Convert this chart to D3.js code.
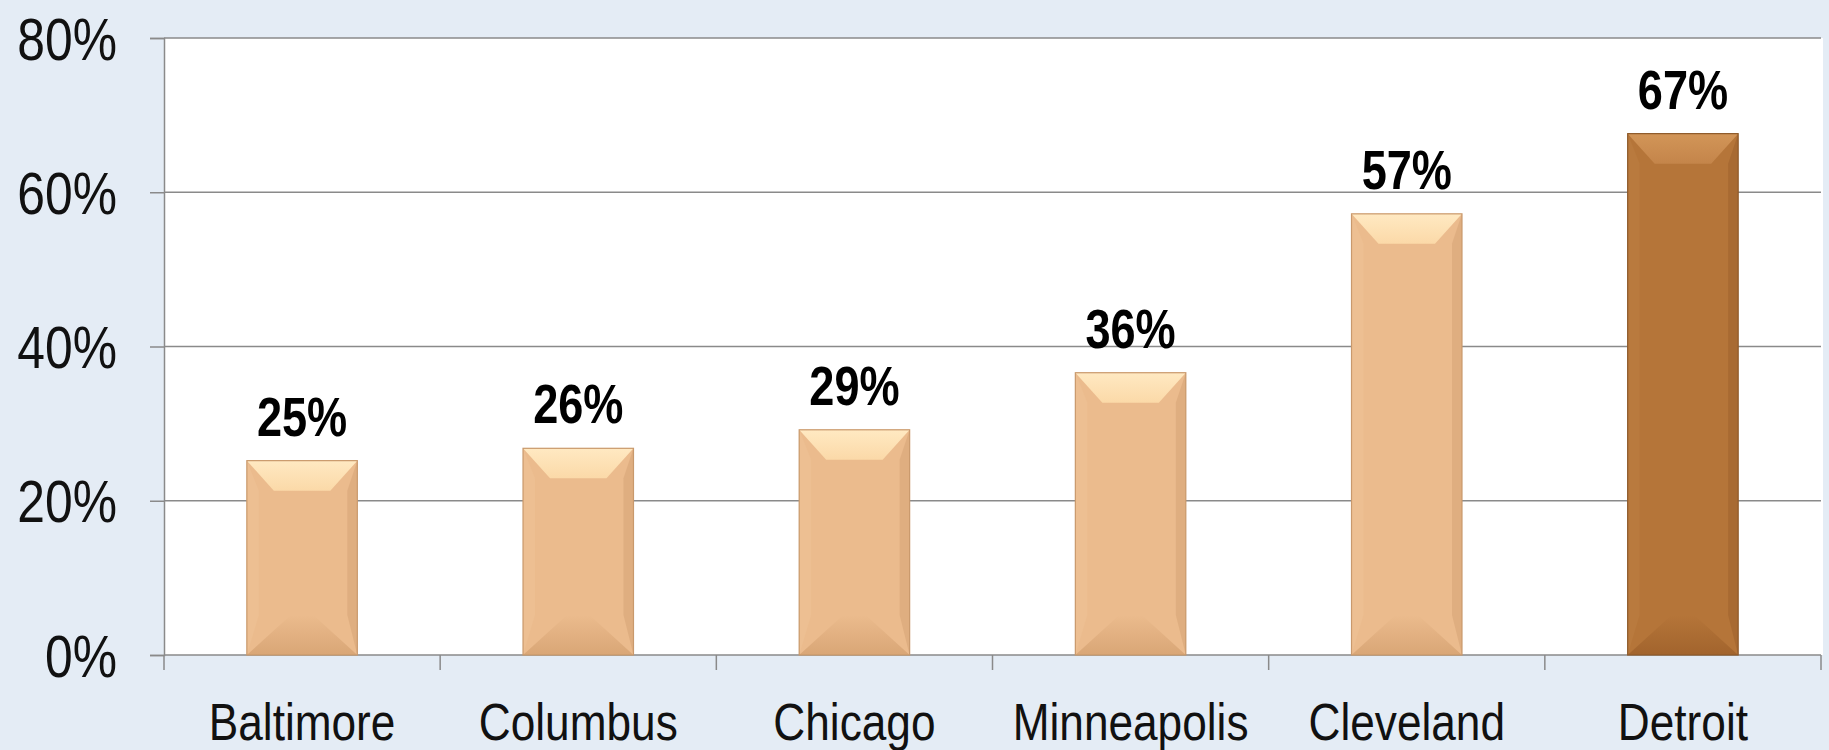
<!DOCTYPE html>
<html>
<head>
<meta charset="utf-8">
<script src="https://cdn.jsdelivr.net/npm/d3@7"></script>
<style>
  html, body { margin: 0; padding: 0; background: #e4ecf5; }
  svg { display: block; }
  text { font-family: "Liberation Sans", Arial, sans-serif; }
</style>
</head>
<body>
<svg id="chart" width="1829" height="750"></svg>
<script>
// ---- data ----
const categories = ["Baltimore", "Columbus", "Chicago", "Minneapolis", "Cleveland", "Detroit"];
const values = [25.2, 26.8, 29.2, 36.6, 57.2, 67.6];
const valueLabels = ["25%", "26%", "29%", "36%", "57%", "67%"];
const highlighted = ["Detroit"];
const yTicks = [0, 20, 40, 60, 80];
const yTickLabels = ["0%", "20%", "40%", "60%", "80%"];

// ---- layout ----
const W = 1829, H = 750;
const margin = { left: 164, right: 8, top: 38, bottom: 95 };
const svg = d3.select("#chart");
const defs = svg.append("defs");

const x = d3.scaleBand().domain(categories)
  .range([margin.left, W - margin.right])
  .paddingInner(0.6).paddingOuter(0.3);
const xBand = d3.scaleBand().domain(categories)
  .range([margin.left, W - margin.right]).padding(0);
const y = d3.scaleLinear().domain([0, 80]).range([H - margin.bottom, margin.top]);

// background
svg.append("rect").attr("width", W).attr("height", H).attr("fill", "#e4ecf5");
// plot area
svg.append("rect")
  .attr("x", margin.left).attr("y", y(80))
  .attr("width", W - margin.right - margin.left + 2).attr("height", y(0) - y(80))
  .attr("fill", "#ffffff");

// gridlines
svg.append("g").selectAll("line").data(yTicks.filter(d => d > 0)).join("line")
  .attr("x1", margin.left).attr("x2", W - margin.right)
  .attr("y1", d => y(d)).attr("y2", d => y(d))
  .attr("stroke", "#8a8a8a").attr("stroke-width", 1.5);

// y axis
const yAxis = d3.axisLeft(y).tickValues(yTicks).tickSize(14).tickFormat("");
const gy = svg.append("g").attr("transform", `translate(${margin.left},0)`).call(yAxis);
gy.select(".domain").attr("stroke", "#8a8a8a").attr("stroke-width", 1.5);
gy.selectAll(".tick line").attr("stroke", "#8a8a8a").attr("stroke-width", 1.5);

const sx = 0.83;
svg.append("g").selectAll("text").data(yTicks).join("text")
  .attr("transform", d => `translate(117,${y(d)}) scale(${sx},1)`)
  .attr("text-anchor", "end").attr("dy", "0.36em")
  .attr("font-size", 60).attr("fill", "#111")
  .text((d, i) => yTickLabels[i]);

// x axis baseline + category ticks
svg.append("line")
  .attr("x1", margin.left).attr("x2", W - margin.right)
  .attr("y1", y(0)).attr("y2", y(0))
  .attr("stroke", "#8a8a8a").attr("stroke-width", 1.5);
const bounds = categories.map(c => xBand(c)).concat([xBand(categories[categories.length - 1]) + xBand.bandwidth()]);
svg.append("g").selectAll("line").data(bounds).join("line")
  .attr("x1", d => d).attr("x2", d => d)
  .attr("y1", y(0)).attr("y2", y(0) + 15)
  .attr("stroke", "#8a8a8a").attr("stroke-width", 1.5);

svg.append("g").selectAll("text").data(categories).join("text")
  .attr("transform", d => `translate(${xBand(d) + xBand.bandwidth() / 2},740) scale(0.85,1)`)
  .attr("text-anchor", "middle")
  .attr("font-size", 52).attr("fill", "#111")
  .text(d => d);

// ---- bars with bevel ----
const palettes = {
  normal: { base: "#ebbb8d", top: "#fbd9a8", topEdge: "#ffe9c2", bottom: "#d9a676", left: "#edbf92", right: "#dfae80", stroke: "#c9996c" },
  hi:     { base: "#b57539", top: "#c4854a", topEdge: "#d29558", bottom: "#a2642d", left: "#b97a3e", right: "#a86a32", stroke: "#8e5a2a" }
};

function mkGrad(id, c1, c2, vertical) {
  const g = defs.append("linearGradient").attr("id", id)
    .attr("x1", 0).attr("y1", 0).attr("x2", vertical ? 0 : 1).attr("y2", vertical ? 1 : 0);
  g.append("stop").attr("offset", "0%").attr("stop-color", c1);
  g.append("stop").attr("offset", "100%").attr("stop-color", c2);
}
["normal", "hi"].forEach(k => {
  const p = palettes[k];
  mkGrad("top-" + k, p.topEdge, p.top, true);
  mkGrad("bot-" + k, p.base, p.bottom, true);
});

const bev = 30, bevBot = 40;
const bars = svg.append("g").selectAll("g").data(categories).join("g");
bars.each(function (c, i) {
  const g = d3.select(this);
  const isHi = highlighted.includes(c);
  const p = isHi ? palettes.hi : palettes.normal;
  const k = isHi ? "hi" : "normal";
  const x0 = x(c), x1 = x(c) + x.bandwidth();
  const y0 = y(values[i]), y1 = y(0);
  const b = Math.min(bev, (y1 - y0) / 3);
  const bb = Math.min(bevBot, (y1 - y0) / 3);
  g.append("rect").attr("x", x0).attr("y", y0).attr("width", x1 - x0).attr("height", y1 - y0)
    .attr("fill", p.base);
  // left bevel (subtle)
  g.append("polygon").attr("points", [[x0, y0], [x0 + 12, y0 + b], [x0 + 12, y1 - bb], [x0, y1]].join(" "))
    .attr("fill", p.left);
  // right bevel (subtle darker)
  g.append("polygon").attr("points", [[x1, y0], [x1 - 10, y0 + b], [x1 - 10, y1 - bb], [x1, y1]].join(" "))
    .attr("fill", p.right);
  // bottom bevel
  g.append("polygon").attr("points", [[x0, y1], [x0 + bb * 1.1, y1 - bb], [x1 - bb * 1.1, y1 - bb], [x1, y1]].join(" "))
    .attr("fill", `url(#bot-${k})`);
  // top bevel
  g.append("polygon").attr("points", [[x0, y0], [x1, y0], [x1 - b * 0.9, y0 + b], [x0 + b * 0.9, y0 + b]].join(" "))
    .attr("fill", `url(#top-${k})`);
  g.append("rect").attr("x", x0).attr("y", y0).attr("width", x1 - x0).attr("height", y1 - y0)
    .attr("fill", "none").attr("stroke", p.stroke).attr("stroke-width", 1.2);
});

// value labels
svg.append("g").selectAll("text").data(categories).join("text")
  .attr("transform", (c, i) => `translate(${x(c) + x.bandwidth() / 2},${y(values[i]) - 25}) scale(0.82,1)`)
  .attr("text-anchor", "middle")
  .attr("font-size", 55).attr("font-weight", "bold").attr("fill", "#000")
  .text((c, i) => valueLabels[i]);
</script>
</body>
</html>
